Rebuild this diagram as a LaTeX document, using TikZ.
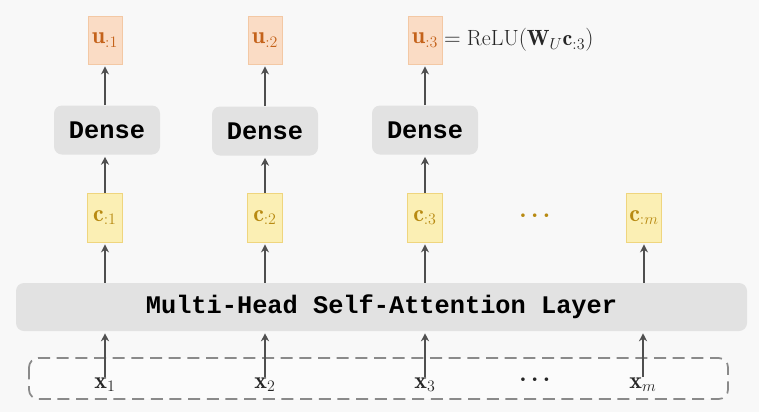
\documentclass[tikz,border=0pt]{standalone}
\usepackage{amsmath}
\usepackage{fontspec}
\newfontfamily\monob[BoldFont={Liberation Mono Bold}]{Liberation Mono}
\usetikzlibrary{arrows.meta}
\definecolor{bgc}{HTML}{F8F8F8}
\definecolor{boxg}{HTML}{E2E2E2}
\definecolor{ufill}{HTML}{FADCC5}
\definecolor{uline}{HTML}{F3C8A4}
\definecolor{utext}{HTML}{C4621A}
\definecolor{cfill}{HTML}{FBEFB4}
\definecolor{cline}{HTML}{EFD57E}
\definecolor{ctext}{HTML}{B88A12}
\definecolor{arr}{HTML}{4F4F4F}
\definecolor{dashc}{HTML}{8A8A8A}
\begin{document}
\begin{tikzpicture}[x=0.75pt,y=-0.75pt,
  ubox/.style={draw=uline,fill=ufill,line width=0.6pt,minimum width=25.5pt,minimum height=36pt,inner sep=0pt,text=utext,font=\fontsize{18}{20}\selectfont},
  cbox/.style={draw=cline,fill=cfill,line width=0.6pt,minimum width=26.25pt,minimum height=36.75pt,inner sep=0pt,text=ctext,font=\fontsize{18}{20}\selectfont},
  densebox/.style={fill=boxg,rounded corners=6pt,minimum width=79.5pt,minimum height=36.75pt,inner sep=0pt,font=\monob\bfseries\fontsize{19}{22}\selectfont},
  layerbox/.style={fill=boxg,rounded corners=6pt,minimum width=548.25pt,minimum height=36pt,inner sep=0pt,font=\monob\bfseries\fontsize{19}{22}\selectfont},
  xlab/.style={inner sep=1pt,text=black!85,font=\fontsize{18}{20}\selectfont},
  conn/.style={draw=arr,line width=1.7pt,-{Stealth[length=6pt,width=6pt]},shorten >=1.5pt}
]
\fill[bgc] (0,0) rectangle (759,412);
\useasboundingbox (0,0) rectangle (759,412);
% dashed input box
\draw[draw=dashc,line width=1.3pt,dash pattern=on 9pt off 5pt,rounded corners=7pt,fill=bgc!60!white] (29,358) rectangle (728,399);
% layer
\node[layerbox] (L) at (381.5,307) {Multi-Head Self-Attention Layer};
% inputs
\node[xlab,anchor=base] (x1) at (105,388) {$\mathbf{x}_1$};
\node[xlab,anchor=base] (x2) at (265,388) {$\mathbf{x}_2$};
\node[xlab,anchor=base] (x3) at (425,388) {$\mathbf{x}_3$};
\node[xlab] (xd) at (537,380) {$\boldsymbol{\cdots}$};
\node[xlab,anchor=base] (xm) at (643,388) {$\mathbf{x}_m$};
% c boxes
\node[cbox] (c1) at (105,217.5) {$\mathbf{c}_{:1}$};
\node[cbox] (c2) at (265,217.5) {$\mathbf{c}_{:2}$};
\node[cbox] (c3) at (425,217.5) {$\mathbf{c}_{:3}$};
\node[text=ctext,font=\fontsize{18}{20}\selectfont] (cd) at (537,216) {$\boldsymbol{\cdots}$};
\node[cbox] (cm) at (644,217.5) {$\mathbf{c}_{:m}$};
% dense
\node[densebox] (d1) at (107,130) {Dense};
\node[densebox] (d2) at (265,131) {Dense};
\node[densebox] (d3) at (425,130) {Dense};
% u boxes
\node[ubox] (u1) at (105,40) {$\mathbf{u}_{:1}$};
\node[ubox] (u2) at (265,40) {$\mathbf{u}_{:2}$};
\node[ubox] (u3) at (425,40) {$\mathbf{u}_{:3}$};
\node[anchor=west,inner sep=0pt,font=\fontsize{16.5}{20}\selectfont,text=black!85] (f) at ([xshift=1pt]u3.east) {$=\mathrm{ReLU}(\mathbf{W}_U\mathbf{c}_{:3})$};
% connectors
\foreach \a in {x1,x2,x3,xm}{
  \draw[conn] ([yshift=-1pt]\a.north) -- (\a.north |- L.south);
}
\foreach \b in {c1,c2,c3,cm}{
  \draw[conn] (\b.south |- L.north) -- (\b.south);
}
\draw[conn] (d1.north -| u1.south) -- (u1.south);
\draw[conn] (d2.north) -- (u2.south);
\draw[conn] (d3.north) -- (u3.south);
\draw[conn] (c1.north) -- (c1.north |- d1.south);
\draw[conn] (c2.north) -- (d2.south);
\draw[conn] (c3.north) -- (d3.south);
\end{tikzpicture}
\end{document}
